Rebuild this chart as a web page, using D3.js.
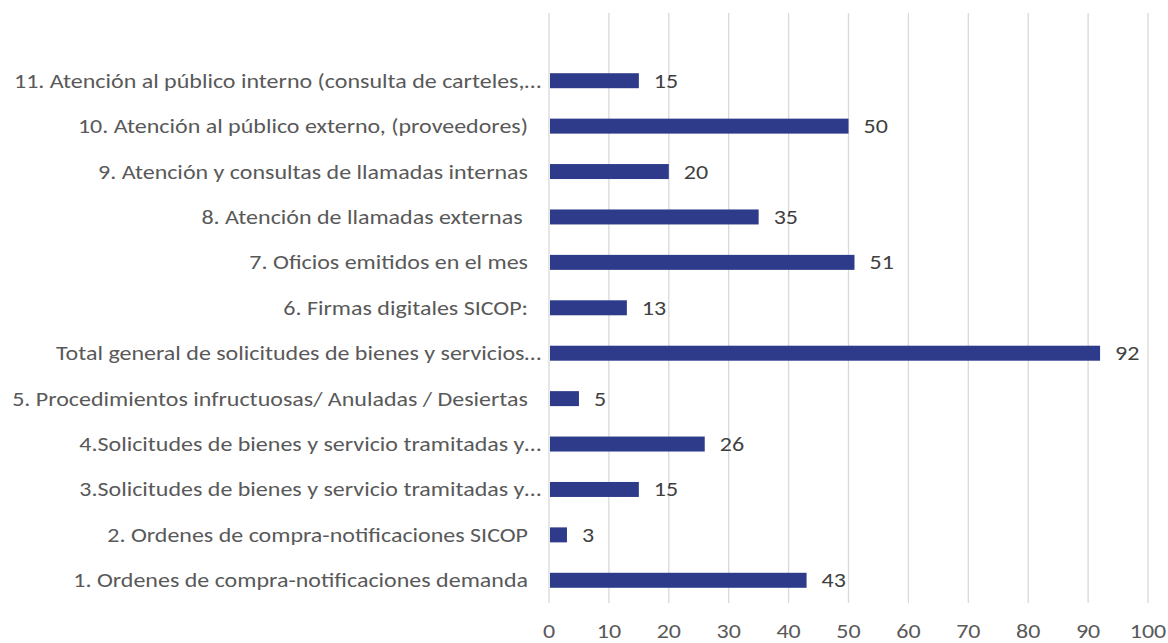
<!DOCTYPE html>
<html>
<head>
<meta charset="utf-8">
<script src="https://cdn.jsdelivr.net/npm/d3@7"></script>
<style>
  body { margin: 0; background: #fff; }
  svg { display: block; }
</style>
</head>
<body>
<div id="chart"></div>
<script>
// categories from bottom to top, as in the chart
const categories = [
  '1. Ordenes de compra-notificaciones demanda',
  '2. Ordenes de compra-notificaciones SICOP',
  '3.Solicitudes de bienes y servicio tramitadas y…',
  '4.Solicitudes de bienes y servicio tramitadas y…',
  '5. Procedimientos infructuosas/ Anuladas / Desiertas',
  'Total general de solicitudes de bienes y servicios…',
  '6. Firmas digitales SICOP:',
  '7. Oficios emitidos en el mes',
  '8. Atención de llamadas externas ',
  '9. Atención y consultas de llamadas internas',
  '10. Atención al público externo, (proveedores)',
  '11. Atención al público interno (consulta de carteles,…'
]
const values = [43, 3, 15, 26, 5, 92, 13, 51, 35, 20, 50, 15]
const ticks = [0, 10, 20, 30, 40, 50, 60, 70, 80, 90, 100]

const width = 1168, height = 643
const font = "Carlito, Calibri, Lato, sans-serif"
const stretch = 1.2   // the source text is wider than plain Calibri

const svg = d3.select('#chart').append('svg')
  .attr('width', width)
  .attr('height', height)

const x = d3.scaleLinear().domain([0, 100]).range([549, 1148])
const y = d3.scaleBand().domain(categories).range([603, 58]).paddingInner(0.67).paddingOuter(0.335)

function textStyle(sel, colour) {
  return sel
    .style('font-family', font)
    .style('font-size', '20px')
    .style('fill', colour)
    .style('white-space', 'pre')
}

// gridlines
svg.append('g')
  .selectAll('line')
  .data(ticks)
  .join('line')
  .attr('x1', d => x(d)).attr('x2', d => x(d))
  .attr('y1', 13).attr('y2', 603)
  .style('stroke', '#d9d9d9')
  .style('stroke-width', 1.3)

// tick labels
svg.append('g')
  .selectAll('text')
  .data(ticks)
  .join('text')
  .attr('transform', d => `translate(${x(d)},638) scale(${stretch},1)`)
  .attr('text-anchor', 'middle')
  .call(textStyle, '#595959')
  .text(d => d)

// bars
svg.append('g')
  .selectAll('rect')
  .data(values)
  .join('rect')
  .attr('x', x(0) + 1)
  .attr('y', (d, i) => y(categories[i]))
  .attr('width', d => x(d) - x(0) - 1)
  .attr('height', y.bandwidth())
  .style('fill', '#2e3b8a')

// value labels
svg.append('g')
  .selectAll('text')
  .data(values)
  .join('text')
  .attr('transform', (d, i) => `translate(${x(d) + 15},${y(categories[i]) + y.bandwidth() / 2}) scale(${stretch},1)`)
  .attr('dy', '0.35em')
  .call(textStyle, '#404040')
  .text(d => d)

// category labels (truncated ones run closer to the axis)
svg.append('g')
  .selectAll('text')
  .data(categories)
  .join('text')
  .attr('transform', d => {
    const xr = d.endsWith('…') ? 541 : 528
    return `translate(${xr},${y(d) + y.bandwidth() / 2}) scale(${stretch},1)`
  })
  .attr('dy', '0.35em')
  .attr('text-anchor', 'end')
  .call(textStyle, '#595959')
  .text(d => d)
</script>
</body>
</html>
